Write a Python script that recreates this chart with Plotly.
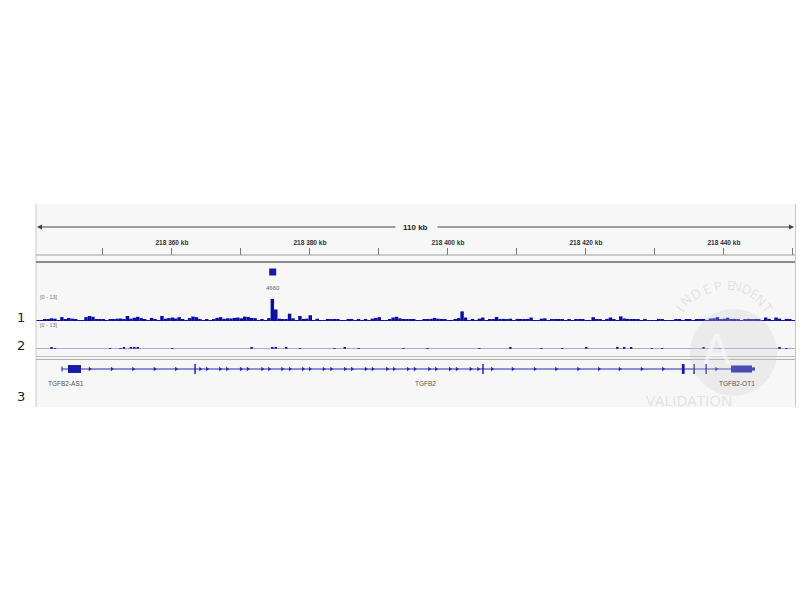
import math
import plotly.graph_objects as go

# ---------------- data ----------------
START_KB = 218340.3          # left edge of the view (kb)
END_KB = 218450.3            # right edge of the view (kb)
BIN_KB = 0.5                 # coverage bin size (kb)

ruler_ticks_kb = [218350, 218360, 218370, 218380, 218390, 218400, 218410, 218420, 218430, 218440, 218450]
ruler_labels = ["", "218 360 kb", "", "218 380 kb", "", "218 400 kb", "", "218 420 kb", "", "218 440 kb", ""]
span_label = "110 kb"
track_range_label = "[0 - 13]"
track_max = 13

track1 = [
    0.5, 0.5, 1.0, 0.6, 1.4, 1.2, 0.3, 2.0, 0.8, 1.6,
    1.2, 1.0, 0.3, 0.4, 2.0, 2.6, 2.2, 0.8, 0.9, 0.7,
    0.3, 0.9, 1.0, 1.2, 1.3, 1.0, 2.6, 1.2, 1.7, 2.2,
    1.5, 0.7, 0.4, 1.6, 0.7, 0.3, 2.6, 1.2, 1.5, 1.8,
    1.3, 2.0, 1.0, 0.5, 1.5, 2.3, 2.0, 0.8, 0.4, 0.6,
    0.5, 0.9, 1.6, 2.0, 1.1, 1.4, 1.3, 1.6, 1.8, 1.4,
    2.3, 2.1, 1.6, 1.5, 0.3, 0.8, 0.4, 1.5, 11.5, 6.0,
    1.2, 0.8, 1.0, 3.8, 1.4, 0.5, 2.6, 1.0, 1.2, 3.0,
    0.4, 1.2, 0.2, 0.3, 0.7, 0.6, 0.7, 1.0, 0.4, 0.2,
    0.6, 0.6, 0.5, 0.7, 0.2, 0.7, 0.3, 1.2, 1.6, 2.0,
    0.3, 0.2, 0.6, 1.8, 2.2, 1.4, 0.6, 0.8, 0.6, 0.8,
    0.4, 0.3, 0.7, 0.6, 1.1, 1.6, 1.2, 0.6, 0.9, 0.5,
    0.2, 1.0, 1.5, 5.0, 1.8, 0.3, 0.7, 0.2, 1.2, 1.8,
    0.3, 0.9, 0.8, 2.1, 1.0, 1.1, 0.9, 1.2, 0.4, 1.1,
    0.9, 0.8, 0.6, 1.8, 0.2, 0.1, 1.2, 1.4, 0.4, 0.8,
    0.9, 0.8, 0.9, 0.4, 0.9, 0.3, 0.7, 0.6, 1.0, 0.4,
    0.1, 2.0, 0.7, 0.8, 0.3, 1.1, 1.8, 0.7, 0.4, 2.4,
    1.3, 1.1, 0.8, 0.9, 0.6, 0.5, 0.6, 0.4, 0.5, 0.1,
    0.9, 0.8, 0.5, 0.2, 0.2, 0.6, 0.7, 0.3, 0.8, 0.9,
    0.3, 0.8, 0.9, 0.8, 0.2, 1.3, 1.4, 2.0, 0.6, 1.2,
    1.7, 1.0, 1.1, 1.0, 0.3, 1.0, 1.1, 0.8, 0.9, 0.8,
    0.4, 1.8, 1.1, 0.5, 1.8, 1.2, 0.5, 1.1, 0.8, 0.3,
]

# track 2: sparse coverage (bin index, value)
track2_bins = [4, 5, 21, 24, 25, 27, 28, 29, 39, 62, 68, 69, 72, 76, 86, 89, 93, 106,
               113, 128, 137, 146, 152, 159, 168, 170, 172, 178, 181, 193, 198, 215, 217]
track2_vals = [0.6, 0.5, 0.5, 0.5, 0.6, 0.7, 0.8, 0.6, 0.5, 0.6, 0.7, 0.6, 0.6, 0.5, 0.5, 0.6, 0.5, 0.5,
               0.5, 0.5, 0.6, 0.5, 0.5, 0.6, 0.6, 0.7, 0.6, 0.5, 0.5, 0.6, 0.5, 0.6, 0.5]

# feature (peak) marker
peak_kb = 218374.6
peak_label = "4660"

# gene model
gene_line_kb = [218344.07, 218444.5]
exon_start_kb = [218344.0, 218344.94, 218363.25, 218404.98, 218433.9, 218435.58, 218437.32, 218441.03, 218444.07]
exon_end_kb = [218344.15, 218346.82, 218363.45, 218405.18, 218434.3, 218435.78, 218437.52, 218444.07, 218444.5]
exon_half_height = [0.22, 0.36, 0.45, 0.45, 0.45, 0.45, 0.45, 0.32, 0.15]
intron_arrows_kb = [218348.1, 218351.3, 218354.4, 218357.5, 218360.6, 218364.1, 218365.1, 218367.0, 218368.0,
                    218370.0, 218371.0, 218373.1, 218374.1, 218376.0, 218377.1, 218379.0, 218380.0, 218382.0,
                    218383.1, 218385.1, 218386.1, 218388.1, 218389.1, 218391.2, 218392.2, 218394.2, 218395.2,
                    218397.3, 218398.3, 218400.3, 218401.3, 218403.3, 218404.4, 218406.4, 218409.4, 218412.6,
                    218415.7, 218418.9, 218421.9, 218424.9, 218428.1, 218431.2, 218438.9]
gene_names = ["TGFB2-AS1", "TGFB2", "TGFB2-OT1"]
gene_label_kb = [218344.6, 218396.8, 218441.9]

row_labels = ["1", "2", "3"]

# ---------------- layout helpers ----------------
W, H = 810, 610
OFF = 8                      # page body margin of the html page
PX_PER_KB = 6.9
LEFT_PX = 36


def px(x):
    return (x - OFF) / W


def py(y):
    return 1 - (y - OFF) / H


x_lo = START_KB - (LEFT_PX - OFF) / PX_PER_KB
x_hi = x_lo + W / PX_PER_KB

BLUE = "rgb(12,12,168)"

fig = go.Figure()

bin_centers = [START_KB + BIN_KB * (i + 0.5) for i in range(len(track1))]
fig.add_trace(go.Bar(x=bin_centers, y=track1, width=BIN_KB, marker=dict(color=BLUE, line=dict(width=0)),
                     xaxis="x", yaxis="y2", hoverinfo="skip"))
fig.add_trace(go.Scatter(x=[START_KB, END_KB], y=[0, 0], mode="lines", line=dict(color=BLUE, width=1),
                         xaxis="x", yaxis="y2", hoverinfo="skip"))

t2_x = [START_KB + BIN_KB * (b + 0.5) for b in track2_bins]
fig.add_trace(go.Bar(x=t2_x, y=track2_vals, width=BIN_KB * 0.7, marker=dict(color=BLUE, line=dict(width=0)),
                     xaxis="x", yaxis="y3", hoverinfo="skip"))
fig.add_trace(go.Scatter(x=[START_KB, END_KB], y=[0, 0], mode="lines", line=dict(color="rgb(90,90,200)", width=1),
                         xaxis="x", yaxis="y3", hoverinfo="skip"))

# peak marker
fig.add_trace(go.Scatter(x=[peak_kb], y=[0.5], mode="markers",
                         marker=dict(symbol="square", size=7, color="rgb(25,25,170)"),
                         xaxis="x", yaxis="y5", hoverinfo="skip"))

# gene model
fig.add_trace(go.Scatter(x=gene_line_kb, y=[0, 0], mode="lines", line=dict(color="rgb(40,40,180)", width=1),
                         xaxis="x", yaxis="y4", hoverinfo="skip"))
fig.add_trace(go.Scatter(x=intron_arrows_kb, y=[0] * len(intron_arrows_kb), mode="markers",
                         marker=dict(symbol="triangle-right", size=4, color="rgb(40,40,180)"),
                         xaxis="x", yaxis="y4", hoverinfo="skip"))
for s, e, hh in zip(exon_start_kb, exon_end_kb, exon_half_height):
    fig.add_shape(type="rect", xref="x", yref="y4", x0=s, x1=e, y0=-hh, y1=hh,
                  fillcolor="rgb(25,25,170)", line=dict(width=0))

shapes = []
# panel background
shapes.append(dict(type="rect", xref="paper", yref="paper", x0=px(36), x1=px(796), y0=py(407), y1=py(204),
                   fillcolor="#f7f7f7", line=dict(width=0), layer="below"))
# borders
shapes.append(dict(type="line", xref="paper", yref="paper", x0=px(36), x1=px(36), y0=py(407), y1=py(204),
                   line=dict(color="#c8c8c8", width=1)))
shapes.append(dict(type="line", xref="paper", yref="paper", x0=px(795.5), x1=px(795.5), y0=py(407), y1=py(204),
                   line=dict(color="#c8c8c8", width=1)))
# ruler baseline + separators
shapes.append(dict(type="line", xref="paper", yref="paper", x0=px(36), x1=px(795), y0=py(255), y1=py(255),
                   line=dict(color="#a0a0a0", width=1)))
shapes.append(dict(type="line", xref="paper", yref="paper", x0=px(36), x1=px(795), y0=py(262), y1=py(262),
                   line=dict(color="#8a8a8a", width=2)))
shapes.append(dict(type="line", xref="paper", yref="paper", x0=px(36), x1=px(795), y0=py(356.5), y1=py(356.5),
                   line=dict(color="#c0c0c0", width=1)))
shapes.append(dict(type="line", xref="paper", yref="paper", x0=px(36), x1=px(795), y0=py(359.5), y1=py(359.5),
                   line=dict(color="#b0b0b0", width=1)))
# watermark circle
shapes.append(dict(type="circle", xref="paper", yref="paper", x0=px(690), x1=px(777), y0=py(396), y1=py(309),
                   fillcolor="rgba(205,205,205,0.28)", line=dict(width=0), layer="above"))
for sh in shapes:
    fig.add_shape(**sh)

ann = []
# span arrows
ann.append(dict(x=px(37), y=py(227), xref="paper", yref="paper", ax=360, ay=0, text="", showarrow=True,
                arrowhead=2, arrowsize=1, arrowwidth=1, arrowcolor="#444"))
ann.append(dict(x=px(794), y=py(227), xref="paper", yref="paper", ax=-358, ay=0, text="", showarrow=True,
                arrowhead=2, arrowsize=1, arrowwidth=1, arrowcolor="#444"))
ann.append(dict(x=px(415), y=py(227), xref="paper", yref="paper", text="<b>%s</b>" % span_label, showarrow=False,
                font=dict(family="Liberation Sans", size=8, color="#222"), bgcolor="#f7f7f7"))
# track range labels
for yy in (297, 325):
    ann.append(dict(x=px(38), y=py(yy), xref="paper", yref="paper", text=track_range_label, showarrow=False,
                    xanchor="left", font=dict(family="Liberation Sans", size=5.5, color="#777")))
# peak label
ann.append(dict(x=peak_kb, y=py(288), xref="x", yref="paper", text=peak_label, showarrow=False,
                font=dict(family="Liberation Sans", size=6, color="#666")))
# gene labels
for name, gx in zip(gene_names, gene_label_kb):
    ann.append(dict(x=gx, y=py(383), xref="x", yref="paper", text=name, showarrow=False,
                    font=dict(family="Liberation Sans", size=6.5, color="#555")))
# row labels
for lab, yy in zip(row_labels, (317, 345, 396)):
    ann.append(dict(x=px(15), y=py(yy), xref="paper", yref="paper", text=lab, showarrow=False,
                    font=dict(family="DejaVu Sans", size=13, color="#222")))
# watermark text
ann.append(dict(x=px(733), y=py(350), xref="paper", yref="paper", text="A", showarrow=False,
                font=dict(family="DejaVu Sans", size=40, color="rgba(255,255,255,0.55)")))
ann.append(dict(x=px(734), y=py(400), xref="paper", yref="paper", text="VALIDATION", showarrow=False,
                font=dict(family="Open Sans", size=15, color="rgba(190,190,190,0.40)")))
word = "INDEPENDENT"
cx, cy, r = 736, 339, 54
n = len(word)
for i, ch in enumerate(word):
    ang = -55 + 110 * i / (n - 1)
    a = math.radians(ang)
    lx = cx + r * math.sin(a)
    ly = cy - r * math.cos(a)
    ann.append(dict(x=px(lx), y=py(ly), xref="paper", yref="paper", text=ch, showarrow=False, textangle=ang,
                    font=dict(family="Open Sans", size=13, color="rgba(190,190,190,0.40)")))

fig.update_layout(
    width=W, height=H,
    margin=dict(l=0, r=0, t=0, b=0),
    paper_bgcolor="white", plot_bgcolor="rgba(0,0,0,0)",
    showlegend=False,
    barmode="overlay",
    annotations=ann,
    xaxis=dict(range=[x_lo, x_hi], domain=[0, 1], anchor="free", position=py(254.5), side="top",
               tickvals=ruler_ticks_kb, ticktext=["<b>%s</b>" % t if t else "" for t in ruler_labels],
               ticks="outside", ticklen=7, tickwidth=1,
               tickcolor="#777", showgrid=False, zeroline=False, showline=False,
               tickfont=dict(family="Liberation Sans", size=6.5, color="#333"), fixedrange=True),
    yaxis=dict(visible=False, domain=[0, 0.01]),
    yaxis2=dict(range=[0, track_max], domain=[py(321), py(296)], visible=False, anchor="free", position=0),
    yaxis3=dict(range=[0, track_max], domain=[py(349), py(324)], visible=False, anchor="free", position=0),
    yaxis4=dict(range=[-1, 1], domain=[py(380), py(358)], visible=False, anchor="free", position=0),
    yaxis5=dict(range=[0, 1], domain=[py(279), py(265)], visible=False, anchor="free", position=0),
)

fig.write_html("out.html")
